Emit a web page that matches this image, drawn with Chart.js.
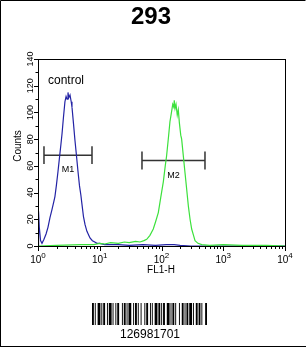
<!DOCTYPE html>
<html>
<head>
<meta charset="utf-8">
<script src="https://cdn.jsdelivr.net/npm/chart.js@4.4.0/dist/chart.umd.min.js"></script>
<style>
  body { margin: 0; background: #fff; }
  canvas { display: block; }
</style>
</head>
<body>
<canvas id="myChart" width="306" height="349"></canvas>
<script>
// control histogram (blue)
var blueX = [1.0, 1.02, 1.05, 1.10, 1.16, 1.25, 1.35, 1.45, 1.56, 1.68, 1.80, 1.88, 1.98, 2.11, 2.25, 2.35, 2.45, 2.58, 2.73, 2.85, 2.95, 3.06, 3.15, 3.30, 3.45, 3.55, 3.75, 3.97, 4.15, 4.44, 4.70, 4.95, 5.16, 5.45, 5.78, 6.2, 6.95, 7.6, 8.3, 9.0, 10, 12, 15, 20, 30, 50, 80, 120, 160, 200, 300, 500, 1000, 10000]
var blueY = [0, 26, 14, 4, 2, 5, 9, 14, 21, 27, 33, 37, 45, 56, 68, 76, 84, 96, 108, 112, 110, 115, 111, 113, 108, 104, 92, 79, 70, 56, 45, 38, 31, 22, 16, 11, 6, 4, 3, 2, 2, 1, 1, 1, 0.5, 1, 0.5, 1, 1, 0.5, 0, 0, 0, 0]

// 293 sample histogram (green)
var greenX = [1, 2, 5, 8, 10, 12, 15, 20, 25, 30, 38, 44.9, 52, 57.6, 65, 73.6, 80, 88.8, 97, 107, 115, 121, 130, 137, 145, 152, 158, 161, 166, 172, 180, 187, 195, 205, 212, 225, 240, 255, 272, 290, 308, 330, 349, 390, 448, 600, 1000, 2000, 5000, 10000]
var greenY = [0, 0.5, 1, 1, 2, 1.5, 2.5, 2, 3, 2.5, 3.5, 3, 4, 5, 8, 12.7, 18, 25, 36, 48, 60, 67.6, 82, 93, 100, 106, 104, 109, 103, 106, 98, 102, 92, 83, 80, 68, 55, 43, 30, 20, 12.7, 8, 4, 2, 1, 0.5, 1, 0.5, 0.5, 0]

// markers
var markerNames = ['M1', 'M2']
var markerFrom = [1.25, 48.3]
var markerTo = [7.49, 506]
var markerLevel = [68, 64]

var yTicks = [0, 20, 40, 60, 80, 100, 120, 140]
var xDecades = [1, 10, 100, 1000, 10000]

var capH = 6.7
var markerSets = markerNames.map(function (n, i) {
  var y = markerLevel[i]
  return {
    label: n,
    data: [
      { x: markerFrom[i], y: y + capH }, { x: markerFrom[i], y: y - capH }, { x: markerFrom[i], y: y },
      { x: markerTo[i], y: y }, { x: markerTo[i], y: y + capH }, { x: markerTo[i], y: y - capH }
    ],
    borderColor: '#333',
    borderWidth: 1.5,
    showLine: true,
    pointRadius: 0
  }
})

function pts(xs, ys) {
  return xs.map(function (x, i) { return { x: x, y: ys[i] } })
}

var barPattern = [2,1,1,2,3,1,1,1,2,2,1,1,3,1,1,2,1,1,2,3,1,1,2,1,1,1,3,2,1,1,2,1,1,2,1,3,1,1,2,2,1,1,1,2,3,1,2,1,1,1,2,2,3,1,1,1,2,1,1,3,1,2,2,1,1,1,2,1,3,1,1,2,2,1,2,1,1,3,2]

var decor = {
  id: 'decor',
  afterDraw: function (chart) {
    var c = chart.ctx
    var xs = chart.scales.x, ys = chart.scales.y
    var a = chart.chartArea
    c.save()
    // outer frame
    c.strokeStyle = '#000'
    c.lineWidth = 1
    c.beginPath()
    c.moveTo(0.5, 346.5); c.lineTo(0.5, 0.5); c.lineTo(305.5, 0.5)
    c.moveTo(0, 346.5); c.lineTo(306, 346.5)
    c.stroke()
    // plot frame
    c.strokeRect(Math.round(a.left) + 0.5, Math.round(a.top) + 0.5, Math.round(a.right - a.left), Math.round(a.bottom - a.top))

    // title
    c.fillStyle = '#000'
    c.font = 'bold 24px "Liberation Sans", Arial, sans-serif'
    c.textAlign = 'center'
    c.textBaseline = 'alphabetic'
    c.fillText('293', 151, 24)

    // y ticks + labels
    c.lineWidth = 1
    c.beginPath()
    for (var v = 0; v <= 140; v += 10) {
      var py = Math.round(ys.getPixelForValue(v)) + 0.5
      var len = v % 20 === 0 ? 4 : 2.5
      c.moveTo(a.left - len, py); c.lineTo(a.left, py)
    }
    c.stroke()
    c.font = '9px "Liberation Sans", Arial, sans-serif'
    yTicks.forEach(function (t) {
      var py = ys.getPixelForValue(t)
      c.save()
      c.translate(a.left - 5, py)
      c.rotate(-Math.PI / 2)
      c.textAlign = 'center'
      c.fillText(String(t), 0, 0)
      c.restore()
    })
    c.save()
    c.translate(21, 146)
    c.rotate(-Math.PI / 2)
    c.textAlign = 'center'
    c.font = '10px "Liberation Sans", Arial, sans-serif'
    c.fillText('Counts', 0, 0)
    c.restore()

    // x ticks + labels
    c.beginPath()
    xDecades.forEach(function (d, k) {
      for (var m = 1; m <= 9; m++) {
        if (k === xDecades.length - 1 && m > 1) break
        var px = Math.round(xs.getPixelForValue(d * m)) + 0.5
        var len = m === 1 ? 5 : 3
        c.moveTo(px, a.bottom); c.lineTo(px, a.bottom + len)
      }
    })
    c.stroke()
    xDecades.forEach(function (d, k) {
      var px = xs.getPixelForValue(d)
      c.font = '10px "Liberation Sans", Arial, sans-serif'
      var w1 = c.measureText('10').width
      c.font = '8px "Liberation Sans", Arial, sans-serif'
      var w2 = c.measureText(String(k)).width
      var x0 = px - (w1 + w2) / 2
      c.textAlign = 'left'
      c.font = '10px "Liberation Sans", Arial, sans-serif'
      c.fillText('10', x0, a.bottom + 17)
      c.font = '8px "Liberation Sans", Arial, sans-serif'
      c.fillText(String(k), x0 + w1, a.bottom + 12)
    })
    c.textAlign = 'center'
    c.font = '10px "Liberation Sans", Arial, sans-serif'
    c.fillText('FL1-H', 161, a.bottom + 27)

    // legend-like label
    c.textAlign = 'left'
    c.font = '12px "Liberation Sans", Arial, sans-serif'
    c.fillText('control', 48, 84)

    // marker labels
    c.textAlign = 'center'
    c.font = '9px "Liberation Sans", Arial, sans-serif'
    markerNames.forEach(function (n, i) {
      var mx = (xs.getPixelForValue(markerFrom[i]) + xs.getPixelForValue(markerTo[i])) / 2
      var my = ys.getPixelForValue(markerLevel[i])
      c.fillText(n, mx, my + 17)
    })

    // barcode
    var total = barPattern.reduce(function (s, w) { return s + w }, 0)
    var unit = 115 / total
    var bx = 92
    c.fillStyle = '#000'
    barPattern.forEach(function (w, i) {
      if (i % 2 === 0) c.fillRect(bx, 303, w * unit, 22)
      bx += w * unit
    })
    c.font = '12px "Liberation Sans", Arial, sans-serif'
    c.textAlign = 'center'
    c.fillText('126981701', 150, 338)
    c.restore()
  }
}

var myChart = document.getElementById('myChart').getContext('2d')
var chart = new Chart(myChart, {
  type: 'scatter',
  data: {
    datasets: [
      {
        label: '293',
        data: pts(greenX, greenY),
        borderColor: 'rgb(60,225,60)',
        borderWidth: 1.2,
        showLine: true,
        pointRadius: 0
      },
      {
        label: 'control',
        data: pts(blueX, blueY),
        borderColor: 'rgb(35,35,165)',
        borderWidth: 1.2,
        showLine: true,
        pointRadius: 0
      }
    ].concat(markerSets)
  },
  options: {
    responsive: false,
    animation: false,
    layout: { padding: { left: 30, top: 59, right: 21, bottom: 95 } },
    plugins: { legend: { display: false }, tooltip: { enabled: false } },
    scales: {
      x: {
        type: 'logarithmic',
        min: 1, max: 10000,
        grid: { display: false },
        border: { display: true, color: '#000' },
        ticks: { display: false }
      },
      y: {
        min: 0, max: 140,
        grid: { display: false },
        border: { display: true, color: '#000' },
        ticks: { display: false }
      }
    }
  },
  plugins: [decor]
})
</script>
</body>
</html>
